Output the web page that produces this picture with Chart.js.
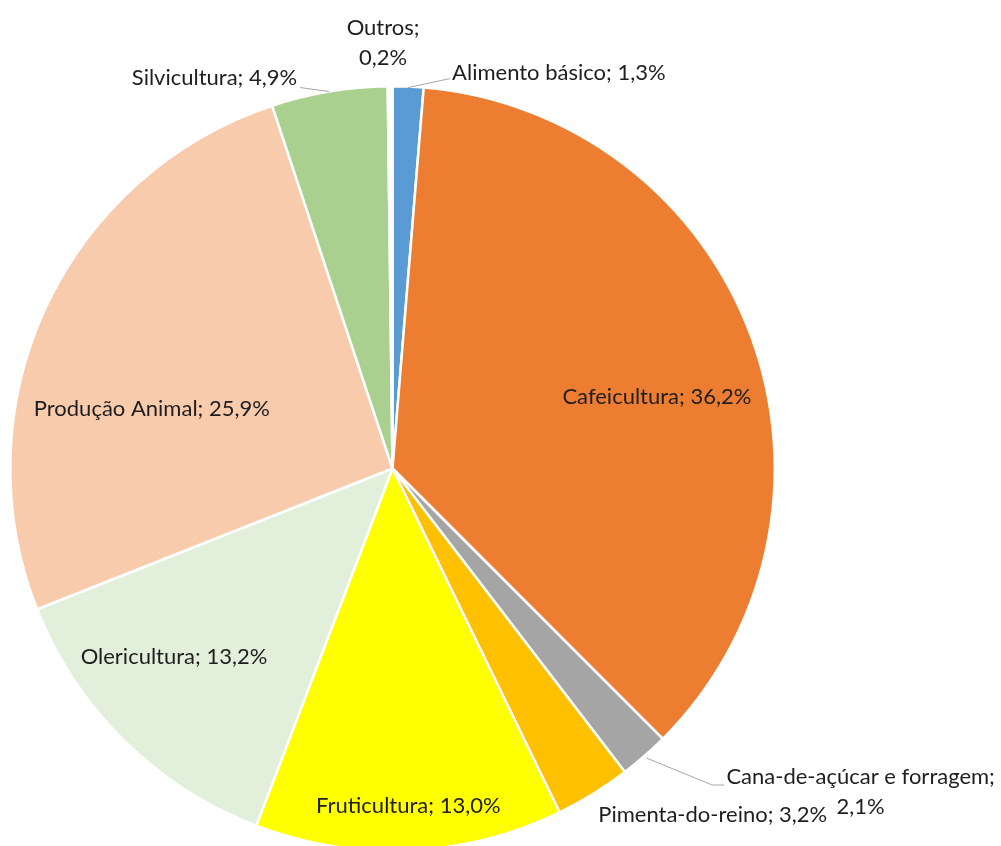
<!DOCTYPE html>
<html>
<head>
<meta charset="utf-8">
<script src="https://cdn.jsdelivr.net/npm/chart.js@4"></script>
<style>
  html, body { margin: 0; padding: 0; background: #fff; overflow: hidden; }
  #wrap { width: 1001px; height: 860px; position: relative; }
</style>
</head>
<body>
<div id="wrap"><canvas id="c"></canvas></div>
<script>
// ---- data ----
const categories = [
  "Alimento básico",
  "Cafeicultura",
  "Cana-de-açúcar e forragem",
  "Pimenta-do-reino",
  "Fruticultura",
  "Olericultura",
  "Produção Animal",
  "Silvicultura",
  "Outros"
];
const shares = [1.3, 36.2, 2.1, 3.2, 13.0, 13.2, 25.9, 4.9, 0.2];
const sliceColors = ["#5B9BD5", "#ED7D31", "#A5A5A5", "#FFC000", "#FFFF00", "#E2EFDA", "#F8CBAD", "#A9D08E", "#FFFFFF"];

// ---- label placement (style only) ----
const labelStyle = [
  { mode: "out", dx: 44, dy: -14, align: "left", lines: 1, leader: [[0, 1], [42, -8]] },
  { mode: "in", f: 0.72, dx: 6, dy: 23 },
  { mode: "out", dx: 82, dy: 21, align: "block", lines: 2, leader: [[2, 2], [68, 29], [80, 29]] },
  { mode: "out", dx: 5, dy: 21, align: "left", lines: 1 },
  { mode: "in", f: 0.88, dx: 1, dy: 1 },
  { mode: "in", f: 0.754, dx: -16, dy: -17 },
  { mode: "in", f: 0.64, dx: -19, dy: 44 },
  { mode: "out", dx: -32, dy: -14, align: "right", lines: 1, leader: [[0, 0], [-29, -4]] },
  { mode: "out", dx: -7, dy: -58, align: "center", lines: 2 }
];

function fmt(v) { return v.toFixed(1).replace(".", ",") + "%"; }

const labelPlugin = {
  id: "pieLabels",
  afterDatasetsDraw(chart) {
    const ctx = chart.ctx;
    const meta = chart.getDatasetMeta(0);
    ctx.save();
    ctx.font = "22px Lato";
    ctx.fillStyle = "#1E1E1E";
    ctx.textBaseline = "middle";
    const lh = 30;
    meta.data.forEach((arc, i) => {
      const p = arc.getProps(["x", "y", "startAngle", "endAngle", "outerRadius"], true);
      const mid = (p.startAngle + p.endAngle) / 2;
      const cx = Math.cos(mid), cy = Math.sin(mid);
      const s = labelStyle[i];
      const name = categories[i], val = fmt(shares[i]);
      if (s.mode === "in") {
        const x = p.x + cx * p.outerRadius * s.f + s.dx;
        const y = p.y + cy * p.outerRadius * s.f + s.dy;
        ctx.textAlign = "center";
        ctx.fillText(name + "; " + val, x, y);
      } else {
        const rx = p.x + cx * p.outerRadius;
        const ry = p.y + cy * p.outerRadius;
        if (s.leader) {
          ctx.beginPath();
          ctx.strokeStyle = "#A6A6A6";
          ctx.lineWidth = 1;
          s.leader.forEach((pt, k) => {
            const X = rx + pt[0], Y = ry + pt[1];
            if (k === 0) ctx.moveTo(X, Y); else ctx.lineTo(X, Y);
          });
          ctx.stroke();
        }
        const x = rx + s.dx, y = ry + s.dy;
        if (s.lines === 1) {
          ctx.textAlign = s.align;
          ctx.fillText(name + "; " + val, x, y);
        } else {
          const l1 = name + ";", l2 = val;
          if (s.align === "block") {
            const w = Math.max(ctx.measureText(l1).width, ctx.measureText(l2).width);
            ctx.textAlign = "center";
            ctx.fillText(l1, x + w / 2, y);
            ctx.fillText(l2, x + w / 2, y + lh);
          } else {
            ctx.textAlign = "center";
            ctx.fillText(l1, x, y);
            ctx.fillText(l2, x, y + lh);
          }
        }
      }
    });
    ctx.restore();
  }
};

new Chart(document.getElementById("c"), {
  type: "pie",
  data: {
    labels: categories,
    datasets: [{
      data: shares,
      backgroundColor: sliceColors,
      borderColor: "#FFFFFF",
      borderWidth: 2.5,
      hoverOffset: 0
    }]
  },
  options: {
    responsive: true,
    maintainAspectRatio: false,
    animation: false,
    events: [],
    layout: { padding: { left: 9, top: 85, right: 225, bottom: 8 } },
    plugins: {
      legend: { display: false },
      tooltip: { enabled: false }
    }
  },
  plugins: [labelPlugin]
});
</script>
</body>
</html>
